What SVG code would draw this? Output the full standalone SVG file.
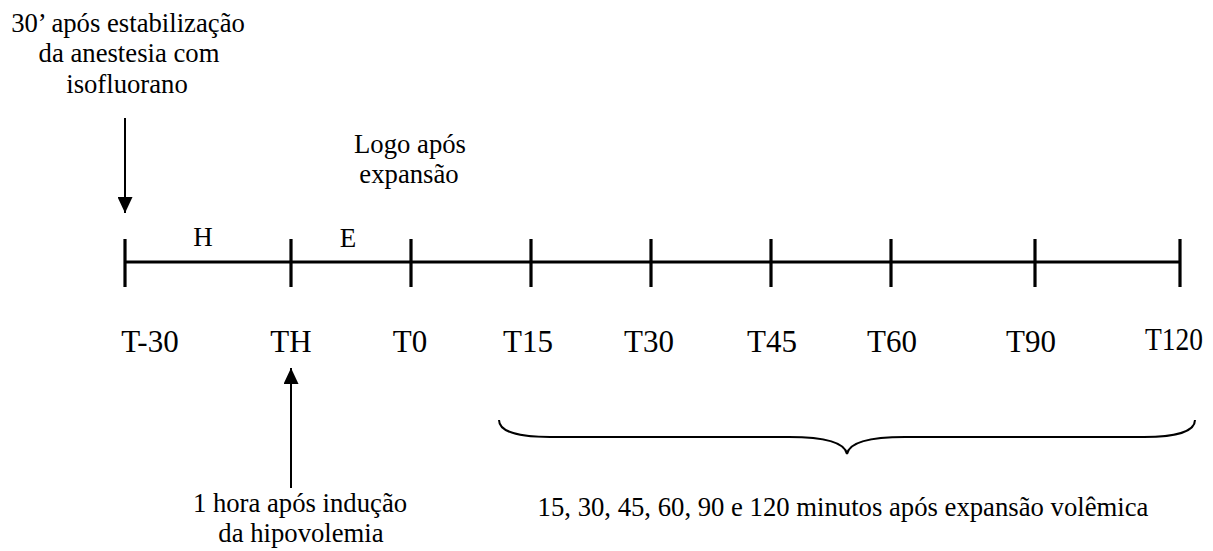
<svg xmlns="http://www.w3.org/2000/svg" width="1213" height="551" viewBox="0 0 1213 551">
  <style>
    .note { font-family: "Liberation Serif", serif; font-size: 26.7px; text-anchor: middle; fill: #000; }
    .phase { font-family: "Liberation Serif", serif; font-size: 27px; text-anchor: middle; fill: #000; }
    .tlabel { font-family: "Liberation Serif", serif; font-size: 31px; text-anchor: middle; fill: #000; }
    .axis { stroke: #000; stroke-width: 3.2; fill: none; }
    .tick { stroke: #000; stroke-width: 3.2; }
    .arrow { stroke: #000; stroke-width: 2; fill: none; }
    .brace { stroke: #000; stroke-width: 2; fill: none; }
  </style>
  <defs>
    <marker id="head" viewBox="0 0 16 15" refX="16" refY="7.5" markerWidth="16" markerHeight="15" markerUnits="userSpaceOnUse" orient="auto">
      <path d="M0,0 L16,7.5 L0,15 Z" fill="#000"/>
    </marker>
  </defs>

  <rect width="1213" height="551" fill="#fff"/>

  <!-- timeline axis with ticks -->
  <g id="timeline">
    <line class="axis" x1="125" y1="262" x2="1180" y2="262"/>
    <line class="tick" x1="125" y1="239" x2="125" y2="287"/>
    <line class="tick" x1="291" y1="239" x2="291" y2="287"/>
    <line class="tick" x1="411" y1="239" x2="411" y2="287"/>
    <line class="tick" x1="531" y1="239" x2="531" y2="287"/>
    <line class="tick" x1="651" y1="239" x2="651" y2="287"/>
    <line class="tick" x1="771" y1="239" x2="771" y2="287"/>
    <line class="tick" x1="891" y1="239" x2="891" y2="287"/>
    <line class="tick" x1="1035" y1="239" x2="1035" y2="287"/>
    <line class="tick" x1="1180" y1="239" x2="1180" y2="287"/>
  </g>

  <!-- phase letters above the axis -->
  <g id="phases" font-family="Liberation Serif, serif">
    <text class="phase" x="203" y="246">H</text>
    <text class="phase" x="348" y="247">E</text>
  </g>

  <!-- time point labels -->
  <g id="labels" font-family="Liberation Serif, serif">
    <text class="tlabel" x="150" y="352">T-30</text>
    <text class="tlabel" x="291" y="352">TH</text>
    <text class="tlabel" x="410" y="352">T0</text>
    <text class="tlabel" x="528" y="352">T15</text>
    <text class="tlabel" x="649" y="352">T30</text>
    <text class="tlabel" x="772" y="352">T45</text>
    <text class="tlabel" x="892" y="352">T60</text>
    <text class="tlabel" x="1031" y="352">T90</text>
    <text class="tlabel" x="1174" y="350" textLength="58" lengthAdjust="spacingAndGlyphs">T120</text>
  </g>

  <!-- annotations -->
  <g id="note-start" font-family="Liberation Serif, serif">
    <text class="note" x="128" y="32">30’ após estabilização</text>
    <text class="note" x="129" y="62">da anestesia com</text>
    <text class="note" x="127" y="93">isofluorano</text>
  </g>
  <g id="note-expansion" font-family="Liberation Serif, serif">
    <text class="note" x="410" y="153">Logo após</text>
    <text class="note" x="409" y="183">expansão</text>
  </g>
  <g id="note-hypovolemia" font-family="Liberation Serif, serif">
    <text class="note" x="300" y="512">1 hora após indução</text>
    <text class="note" x="301" y="542">da hipovolemia</text>
  </g>
  <g id="note-after" font-family="Liberation Serif, serif">
    <text class="note" x="843" y="516">15, 30, 45, 60, 90 e 120 minutos após expansão volêmica</text>
  </g>

  <!-- connectors -->
  <g id="connectors">
    <line class="arrow" x1="125" y1="118" x2="125" y2="213" marker-end="url(#head)"/>
    <line class="arrow" x1="291" y1="488" x2="291" y2="368" marker-end="url(#head)"/>
    <path class="brace" d="M499,420 C499,432 520,437 550,437 L789,437 C825,437 845,443 847,454 C849,443 869,437 905,437 L1144,437 C1174,437 1195,432 1195,420"/>
  </g>
</svg>
